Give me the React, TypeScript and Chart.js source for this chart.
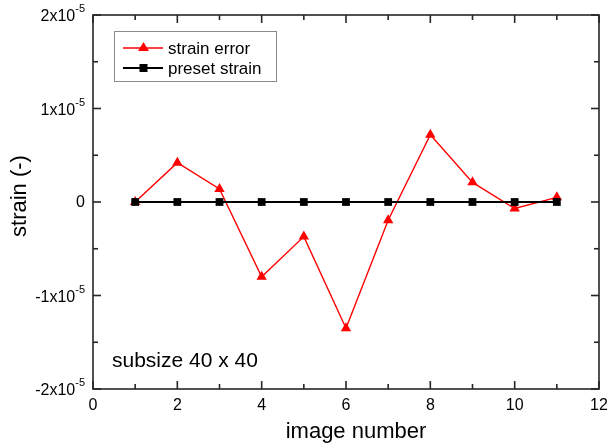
import React, { useEffect, useRef } from "react";
import { Chart, registerables } from "chart.js";

Chart.register(...registerables);

const imageNumbers = [1, 2, 3, 4, 5, 6, 7, 8, 9, 10, 11];
const strainError = [0.0, 0.42e-5, 0.14e-5, -0.8e-5, -0.37e-5, -1.35e-5, -0.195e-5, 0.72e-5, 0.21e-5, -0.07e-5, 0.05e-5];
const presetStrain = [0, 0, 0, 0, 0, 0, 0, 0, 0, 0, 0];

const xTickValues = [0, 2, 4, 6, 8, 10, 12];
const xTickLabels = ["0", "2", "4", "6", "8", "10", "12"];
const yTickValues = [-2e-5, -1e-5, 0, 1e-5, 2e-5];
const yTickLabels = ["-2x10^-5", "-1x10^-5", "0", "1x10^-5", "2x10^-5"];

const seriesNames = ["strain error", "preset strain"];
const xTitle = "image number";
const yTitle = "strain (-)";
const annotation = "subsize 40 x 40";

const FONT = "'Liberation Sans', Arial, sans-serif";
const AXIS = "#262626";

const decorPlugin = {
  id: "decor",
  afterDraw(chart: any) {
    const { ctx, chartArea: a } = chart;
    const x = chart.scales.x;
    const y = chart.scales.y;
    ctx.save();
    ctx.strokeStyle = AXIS;
    ctx.lineWidth = 1.6;
    ctx.strokeRect(a.left, a.top, a.right - a.left, a.bottom - a.top);

    const line = (x1: number, y1: number, x2: number, y2: number) => {
      ctx.beginPath();
      ctx.moveTo(x1, y1);
      ctx.lineTo(x2, y2);
      ctx.stroke();
    };

    for (let i = 0; i < xTickValues.length; i++) {
      const px = x.getPixelForValue(xTickValues[i]);
      line(px, a.bottom, px, a.bottom - 8);
      line(px, a.top, px, a.top + 8);
      if (i < xTickValues.length - 1) {
        const mv = (xTickValues[i] + xTickValues[i + 1]) / 2;
        const mp = x.getPixelForValue(mv);
        line(mp, a.bottom, mp, a.bottom - 5);
        line(mp, a.top, mp, a.top + 5);
      }
    }
    for (let i = 0; i < yTickValues.length; i++) {
      const py = y.getPixelForValue(yTickValues[i]);
      line(a.left, py, a.left + 8, py);
      line(a.right, py, a.right - 8, py);
      if (i < yTickValues.length - 1) {
        const mv = (yTickValues[i] + yTickValues[i + 1]) / 2;
        const mp = y.getPixelForValue(mv);
        line(a.left, mp, a.left + 5, mp);
        line(a.right, mp, a.right - 5, mp);
      }
    }

    ctx.fillStyle = "#000";
    ctx.font = `16px ${FONT}`;
    ctx.textAlign = "center";
    ctx.textBaseline = "middle";
    for (let i = 0; i < xTickValues.length; i++) {
      ctx.fillText(xTickLabels[i], x.getPixelForValue(xTickValues[i]), a.bottom + 17);
    }

    for (let i = 0; i < yTickValues.length; i++) {
      const py = y.getPixelForValue(yTickValues[i]);
      const parts = yTickLabels[i].split("^");
      const rightX = a.left - 8;
      ctx.textBaseline = "middle";
      ctx.textAlign = "right";
      if (parts.length === 2) {
        ctx.font = `11px ${FONT}`;
        const ew = ctx.measureText(parts[1]).width;
        ctx.fillText(parts[1], rightX, py - 6);
        ctx.font = `16px ${FONT}`;
        ctx.fillText(parts[0], rightX - ew, py + 2);
      } else {
        ctx.font = `16px ${FONT}`;
        ctx.fillText(parts[0], rightX, py + 1);
      }
    }

    ctx.font = `22px ${FONT}`;
    ctx.textAlign = "center";
    ctx.textBaseline = "middle";
    ctx.fillText(xTitle, 356, 432);
    ctx.save();
    ctx.translate(20, 196);
    ctx.rotate(-Math.PI / 2);
    ctx.fillText(yTitle, 0, 0);
    ctx.restore();

    ctx.font = `21px ${FONT}`;
    ctx.textAlign = "left";
    ctx.textBaseline = "alphabetic";
    ctx.fillText(annotation, 112, 367);

    const lx = 114, ly = 31, lw = 162, lh = 50;
    ctx.strokeStyle = "#8a8a8a";
    ctx.lineWidth = 1;
    ctx.strokeRect(lx + 0.5, ly + 0.5, lw, lh);
    const rows = [
      { name: seriesNames[0], color: "#ff0000", style: "triangle", lwid: 1.4 },
      { name: seriesNames[1], color: "#000000", style: "rect", lwid: 1.8 },
    ];
    rows.forEach((r, k) => {
      const cy = 48 + k * 20;
      ctx.strokeStyle = r.color;
      ctx.fillStyle = r.color;
      ctx.lineWidth = r.lwid;
      line(123, cy, 163, cy);
      ctx.beginPath();
      if (r.style === "triangle") {
        ctx.moveTo(143.5, cy - 6);
        ctx.lineTo(149, cy + 3);
        ctx.lineTo(138, cy + 3);
        ctx.closePath();
        ctx.fill();
      } else {
        ctx.fillRect(139.5, cy - 4, 8, 8);
      }
      ctx.fillStyle = "#000";
      ctx.font = `17px ${FONT}`;
      ctx.textAlign = "left";
      ctx.textBaseline = "middle";
      ctx.fillText(r.name, 168, cy + 1);
    });
    ctx.restore();
  },
};

export default function App() {
  const ref = useRef<HTMLCanvasElement | null>(null);
  useEffect(() => {
    document.body.style.margin = "0";
    const canvas = ref.current!;
    const chart = new Chart(canvas, {
      type: "line",
      data: {
        datasets: [
          {
            label: seriesNames[0],
            data: imageNumbers.map((n, i) => ({ x: n, y: strainError[i] })),
            borderColor: "#ff0000",
            backgroundColor: "#ff0000",
            borderWidth: 1.4,
            pointStyle: "triangle",
            pointRadius: 6,
            pointBorderWidth: 0,
            order: 2,
          },
          {
            label: seriesNames[1],
            data: imageNumbers.map((n, i) => ({ x: n, y: presetStrain[i] })),
            borderColor: "#000000",
            backgroundColor: "#000000",
            borderWidth: 1.8,
            pointStyle: "rect",
            pointRadius: 5.5,
            pointBorderWidth: 0,
            order: 1,
          },
        ],
      },
      options: {
        responsive: false,
        animation: false,
        layout: { padding: { top: 15, right: 10, left: 0, bottom: 0 } },
        plugins: { legend: { display: false }, tooltip: { enabled: false } },
        scales: {
          x: {
            type: "linear",
            min: 0,
            max: 12,
            grid: { display: false },
            border: { display: false },
            ticks: { display: false },
            afterFit: (s: any) => {
              s.height = 57;
            },
          },
          y: {
            type: "linear",
            min: -2e-5,
            max: 2e-5,
            grid: { display: false },
            border: { display: false },
            ticks: { display: false },
            afterFit: (s: any) => {
              s.width = 93;
            },
          },
        },
      },
      plugins: [decorPlugin],
    } as any);
    return () => chart.destroy();
  }, []);
  return (
    <div style={{ position: "fixed", left: 0, top: 0, width: 609, height: 446, background: "#fff" }}>
      <canvas ref={ref} width={609} height={446} style={{ display: "block" }} />
    </div>
  );
}
